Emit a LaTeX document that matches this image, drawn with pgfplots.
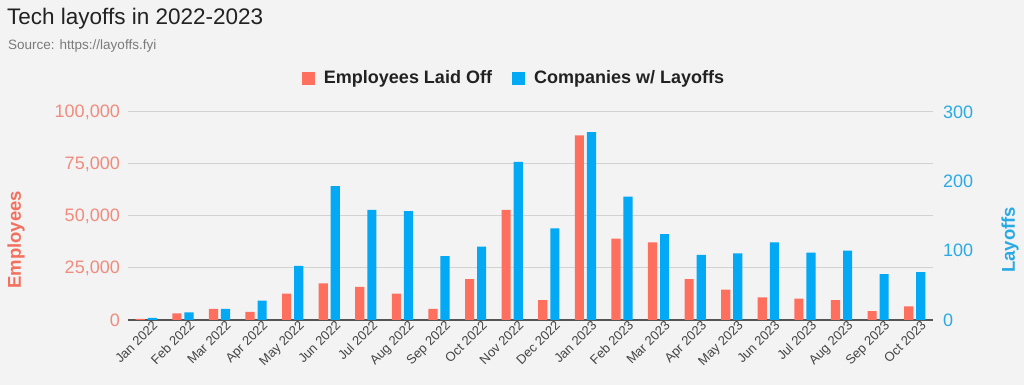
\documentclass[border=0pt]{standalone}
\usepackage{pgfplots}
\usepackage{pgfplotstable}
\pgfplotsset{compat=1.18}
\usepackage{fontspec}
\setmainfont{Liberation Sans}
\definecolor{bg}{HTML}{F3F3F3}
\definecolor{redbar}{HTML}{FF6F5E}
\definecolor{bluebar}{HTML}{03A9F4}
\definecolor{redtxt}{HTML}{F08C7E}
\definecolor{redlab}{HTML}{F4705E}
\definecolor{bluetxt}{HTML}{2AAAE4}
\definecolor{gridc}{HTML}{D2D2D2}
\definecolor{axisc}{HTML}{555555}
\definecolor{darktxt}{HTML}{222222}
\definecolor{ticktxt}{HTML}{444444}
\definecolor{srctxt}{HTML}{7A7A7A}

\pgfplotstableread{
x emp comp
0 500 3
1 3200 11
2 5400 16
3 3850 28
4 12650 78
5 17600 193
6 15900 159
7 12650 157
8 5400 92
9 19700 106
10 52900 228
11 9600 132
12 88800 271
13 39100 178
14 37300 124
15 19700 94
16 14600 96
17 10900 112
18 10250 97
19 9600 100
20 4300 66
21 6600 69
}\data

\begin{document}
\begin{tikzpicture}[x=1pt,y=1pt]
\fill[bg] (0,0) rectangle (1024,385);
\path[use as bounding box] (0,0) rectangle (1024,385);
\node[anchor=west, inner sep=0pt, text=darktxt, font=\fontsize{22.5}{26}\selectfont] at (7,366) {Tech layoffs in 2022-2023};
\node[anchor=west, inner sep=0pt, text=srctxt, font=\fontsize{13.5}{16}\selectfont] at (8,339) {Source: https://layoffs.fyi};

\begin{axis}[
  at={(128pt,65pt)}, anchor=south west,
  scale only axis, width=805pt, height=208pt,
  xmin=-0.5, xmax=21.5, ymin=0, ymax=100000,
  ytick={0,25000,50000,75000,100000},
  yticklabels={0,{25,000},{50,000},{75,000},{100,000}},
  scaled y ticks=false,
  xtick=data,
  xticklabels={Jan 2022,Feb 2022,Mar 2022,Apr 2022,May 2022,Jun 2022,Jul 2022,Aug 2022,Sep 2022,Oct 2022,Nov 2022,Dec 2022,Jan 2023,Feb 2023,Mar 2023,Apr 2023,May 2023,Jun 2023,Jul 2023,Aug 2023,Sep 2023,Oct 2023},
  xticklabel style={rotate=45, anchor=north east, text=ticktxt, font=\fontsize{13}{15}\selectfont, inner sep=0.5pt, xshift=5pt, yshift=-3pt},
  yticklabel style={text=redtxt, font=\fontsize{18}{20}\selectfont, inner sep=0pt, xshift=-8pt},
  major tick length=0pt,
  axis x line*=bottom,
  axis y line*=left,
  x axis line style={draw=axisc, line width=1.5pt, -},
  y axis line style={draw=none},
  ymajorgrids, grid style={draw=gridc, line width=1pt},
  ylabel={Employees},
  ylabel style={at={(axis description cs:-0.139,0.385)}, anchor=center, rotate=0, text=redlab, font=\bfseries\fontsize{18.5}{20}\selectfont},
  clip=false,
]
\addplot[ybar, bar width=0.25, bar shift=-0.165, fill=redbar, draw=none] table[x=x,y=emp] {\data};
\end{axis}

\begin{axis}[
  at={(128pt,65pt)}, anchor=south west,
  scale only axis, width=805pt, height=208pt,
  xmin=-0.5, xmax=21.5, ymin=0, ymax=300,
  ytick={0,100,200,300},
  yticklabels={0,100,200,300},
  axis x line=none,
  axis y line*=right,
  y axis line style={draw=none},
  major tick length=0pt,
  yticklabel style={text=bluetxt, font=\fontsize{18}{20}\selectfont, inner sep=0pt, xshift=10pt},
  ylabel={Layoffs},
  ylabel style={at={(axis description cs:1.0957,0.385)}, anchor=center, rotate=0, text=bluetxt, font=\bfseries\fontsize{18.5}{20}\selectfont},
  legend style={at={(axis description cs:0.4795,1.163)}, anchor=center, draw=none, fill=none, legend columns=2, text=darktxt, font=\bfseries\fontsize{18}{20}\selectfont, /tikz/every even column/.append style={column sep=18pt}},
  legend image code/.code={\fill[#1] (0pt,-6.5pt) rectangle (13pt,6.5pt); \path (20pt,0pt);},
  clip=false,
]
\addlegendimage{fill=redbar, draw=none}
\addlegendentry{Employees Laid Off}
\addplot[ybar, bar width=0.25, bar shift=0.165, fill=bluebar, draw=none] table[x=x,y=comp] {\data};
\addlegendentry{Companies w/ Layoffs}
\end{axis}
\end{tikzpicture}
\end{document}
